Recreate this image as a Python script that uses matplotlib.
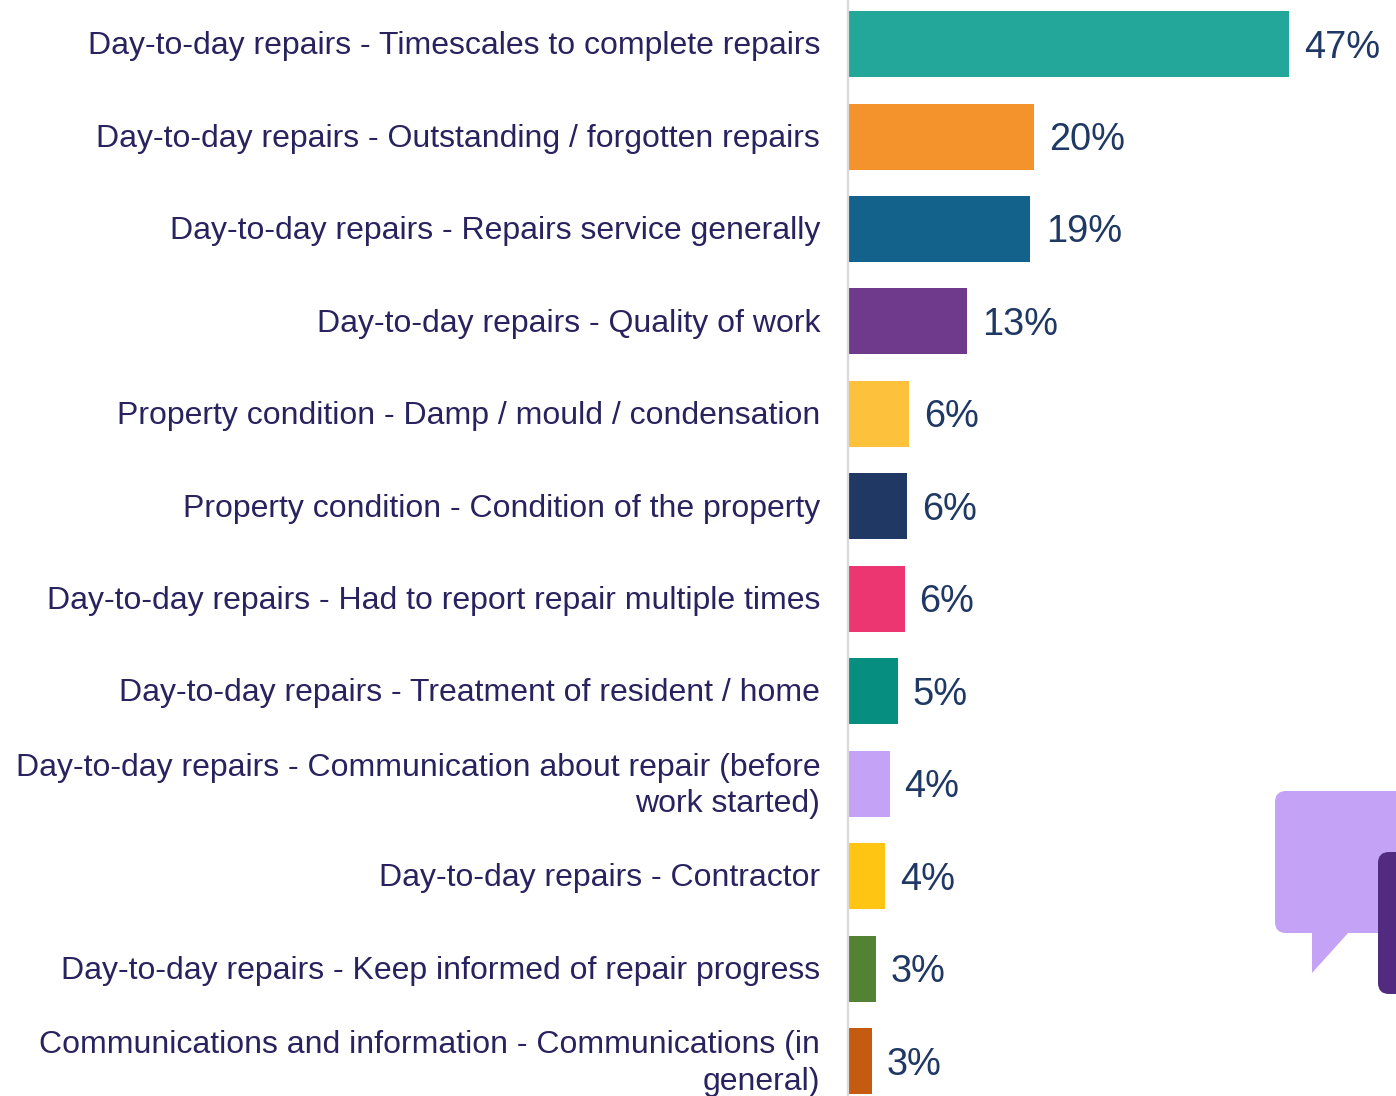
"""Bar chart of repair complaint reasons."""
import matplotlib
matplotlib.use("Agg")
import matplotlib.pyplot as plt
from matplotlib.patches import FancyBboxPatch, Polygon
from matplotlib.transforms import ScaledTranslation

labels = [
    "Day-to-day repairs - Timescales to complete repairs",
    "Day-to-day repairs - Outstanding / forgotten repairs",
    "Day-to-day repairs - Repairs service generally",
    "Day-to-day repairs - Quality of work",
    "Property condition - Damp / mould / condensation",
    "Property condition - Condition of the property",
    "Day-to-day repairs - Had to report repair multiple times",
    "Day-to-day repairs - Treatment of resident / home",
    "Day-to-day repairs - Communication about repair (before\nwork started)",
    "Day-to-day repairs - Contractor",
    "Day-to-day repairs - Keep informed of repair progress",
    "Communications and information - Communications (in\ngeneral)",
]
values = [47.1, 19.8, 19.4, 12.65, 6.45, 6.25, 6.0, 5.25, 4.4, 3.9, 2.95, 2.5]
value_labels = ["47%", "20%", "19%", "13%", "6%", "6%", "6%", "5%", "4%", "4%", "3%", "3%"]
colors = ["#22a79a", "#f4922c", "#12628c", "#6f398c", "#fec13c", "#1f3864",
          "#ec3672", "#068f80", "#c4a2f5", "#ffc512", "#548235", "#c55a11"]

W, H = 1396, 1096
plt.rcParams["font.family"] = ["Liberation Sans", "DejaVu Sans"]
fig = plt.figure(figsize=(W / 100, H / 100), dpi=100)

# overlay in pixel coordinates for the speech bubble
bg = fig.add_axes([0, 0, 1, 1])
bg.set_xlim(0, W); bg.set_ylim(H, 0); bg.axis("off")
bg.add_patch(FancyBboxPatch((1275, 791), 160, 142, boxstyle="round,pad=0,rounding_size=11",
                            fc="#c4a2f5", ec="none"))
bg.add_patch(Polygon([[1312, 932], [1312, 973], [1349, 932]], fc="#c4a2f5", ec="none"))
bg.add_patch(FancyBboxPatch((1378, 852), 60, 142, boxstyle="round,pad=0,rounding_size=11",
                            fc="#522a7f", ec="none"))

# axes spans x=848..1396 px; bars are 92.45 px apart
ax = fig.add_axes([848 / W, 0, (W - 848) / W, 1])
ax.patch.set_alpha(0)
px_per_unit = (1289 - 849) / 47.1
ax.set_xlim(0, (W - 848) / px_per_unit)
top, step = 44.1, 92.45
pos = [top + i * step for i in range(len(values))]
ax.set_ylim(H, 0)
ax.barh(pos, values, height=66, color=colors, left=0.1)
for y, v, t in zip(pos, values, value_labels):
    gap = 15.5 if len(t) == 3 else 14.5
    ax.text(v + 0.1 + gap / px_per_unit, y + 3.5, t, va="center", ha="left",
            fontsize=27.4, color="#1f3864")
ax.set_yticks(pos)
ax.set_yticklabels(labels, fontsize=23.05, color="#28235f", linespacing=1.29)
ax.tick_params(axis="y", length=0, pad=20)
# wrapped labels sit higher than their bar centre
for lab, text in zip(ax.get_yticklabels(), labels):
    dy = 4.5 if "\n" in text else 1.3
    lab.set_transform(lab.get_transform() + ScaledTranslation(0, dy / 100, fig.dpi_scale_trans))
ax.set_xticks([])
for s in ["top", "right", "bottom"]:
    ax.spines[s].set_visible(False)
ax.spines["left"].set_color("#d9d9d9")
ax.spines["left"].set_linewidth(1.6)

fig.savefig("out.png", dpi=100)
